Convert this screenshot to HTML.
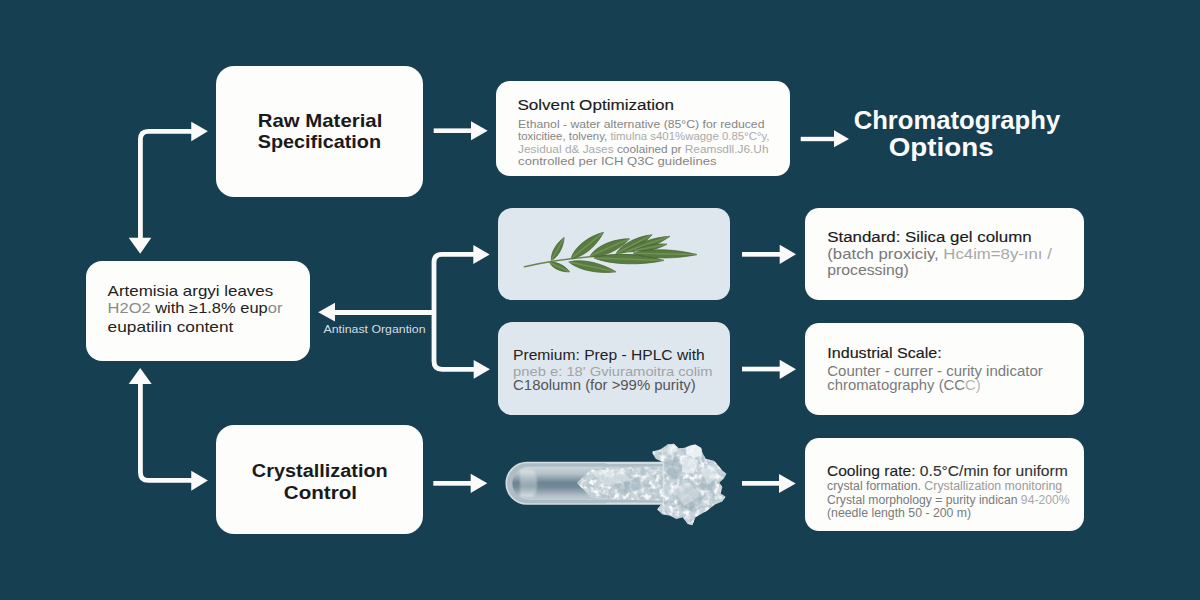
<!DOCTYPE html>
<html><head><meta charset="utf-8">
<style>
html,body{margin:0;padding:0;width:1200px;height:600px;overflow:hidden;background:#173f52;}
svg{display:block;}
text{font-family:"Liberation Sans",sans-serif;}
.b{font-weight:bold;}
</style></head>
<body>
<svg width="1200" height="600" viewBox="0 0 1200 600">
<defs>
<radialGradient id="bgg" cx="50%" cy="45%" r="75%">
<stop offset="0" stop-color="#1c3f55"/><stop offset="1" stop-color="#1a3a4f"/>
</radialGradient>
<linearGradient id="tubeg" x1="0" y1="0" x2="0" y2="1">
<stop offset="0" stop-color="#ccd6db"/><stop offset="0.2" stop-color="#b6c3ca"/><stop offset="0.48" stop-color="#6c8493"/><stop offset="0.62" stop-color="#748b99"/><stop offset="0.85" stop-color="#adbcc4"/><stop offset="1" stop-color="#c3ced4"/>
</linearGradient>
<linearGradient id="plugg" x1="0" y1="0" x2="0" y2="1">
<stop offset="0" stop-color="#dfe6ea"/><stop offset="0.35" stop-color="#b3c1c8"/><stop offset="0.6" stop-color="#9aabb5"/><stop offset="1" stop-color="#dfe6ea"/>
</linearGradient>
<filter id="tex" x="-10%" y="-10%" width="120%" height="120%">
<feTurbulence type="fractalNoise" baseFrequency="0.17" numOctaves="3" seed="7" result="n"/>
<feColorMatrix in="n" type="matrix" values="0 0 0 0 0.45  0 0 0 0 0.54  0 0 0 0 0.6  0 0 0 -4.5 2.5" result="dark"/>
<feComposite in="dark" in2="SourceGraphic" operator="in" result="d2"/>
<feTurbulence type="fractalNoise" baseFrequency="0.2" numOctaves="2" seed="11" result="n2"/>
<feColorMatrix in="n2" type="matrix" values="0 0 0 0 0.96  0 0 0 0 0.97  0 0 0 0 0.98  0 0 0 3.5 -1.65" result="light"/>
<feComposite in="light" in2="SourceGraphic" operator="in" result="l2"/>
<feMerge><feMergeNode in="SourceGraphic"/><feMergeNode in="d2"/><feMergeNode in="l2"/></feMerge>
</filter>
<filter id="soft" x="-20%" y="-20%" width="140%" height="140%"><feGaussianBlur stdDeviation="0.9"/></filter>
</defs>
<rect width="1200" height="600" fill="#173f52"/>

<!-- boxes -->
<g id="boxes">
<rect x="216" y="66" width="207" height="131" rx="18" fill="#fdfdfc"/>
<rect x="496" y="81" width="294" height="95" rx="14" fill="#fdfdfc"/>
<rect x="498" y="208" width="232" height="92" rx="14" fill="#dfe7ee"/>
<rect x="498" y="322" width="232" height="93" rx="14" fill="#dfe7ee"/>
<rect x="805" y="208" width="279" height="92" rx="14" fill="#fdfdfc"/>
<rect x="805" y="323" width="279" height="92" rx="14" fill="#fdfdfc"/>
<rect x="805" y="438" width="279" height="93" rx="14" fill="#fdfdfc"/>
<rect x="86" y="261" width="224" height="100" rx="16" fill="#fdfdfc"/>
<rect x="216" y="425" width="207" height="109" rx="18" fill="#fdfdfc"/>
</g>

<!-- leaf -->
<g id="leaf">
<path d="M524.5,266.8 Q556,259.5 590,256.8 T696,254.6" fill="none" stroke="#6a8550" stroke-width="1.5" stroke-linecap="round"/>
<path d="M551.4,260.4 C558.6,256.9 563.6,246.2 564.1,237.5 C557.0,242.5 550.5,252.4 551.4,260.4 Z" fill="#587c40" stroke="#41622f" stroke-width="0.7"/>
<path d="M551.4,260.4 Q557.8,248.9 564.1,237.5" fill="none" stroke="#8ba56c" stroke-width="1.5" opacity="0.5"/>
<path d="M549.8,262.7 C552.9,269.0 562.2,272.3 569.6,271.8 C565.2,265.8 556.6,261.0 549.8,262.7 Z" fill="#587c40" stroke="#41622f" stroke-width="0.7"/>
<path d="M549.8,262.7 Q559.7,267.2 569.6,271.8" fill="none" stroke="#8ba56c" stroke-width="1.5" opacity="0.5"/>
<path d="M571.0,258.5 C583.7,257.6 597.5,244.8 603.5,232.3 C590.0,235.5 574.6,246.3 571.0,258.5 Z" fill="#587c40" stroke="#41622f" stroke-width="0.7"/>
<path d="M571.0,258.5 Q587.2,245.4 603.5,232.3" fill="none" stroke="#8ba56c" stroke-width="1.5" opacity="0.5"/>
<path d="M568.8,262.0 C579.3,270.9 600.7,274.1 616.0,271.8 C602.9,263.6 581.9,258.0 568.8,262.0 Z" fill="#587c40" stroke="#41622f" stroke-width="0.7"/>
<path d="M568.8,262.0 Q592.4,266.9 616.0,271.8" fill="none" stroke="#8ba56c" stroke-width="1.5" opacity="0.5"/>
<path d="M590.0,256.0 C602.8,258.4 620.0,249.4 629.5,238.8 C615.3,238.5 597.0,245.0 590.0,256.0 Z" fill="#587c40" stroke="#41622f" stroke-width="0.7"/>
<path d="M590.0,256.0 Q609.8,247.4 629.5,238.8" fill="none" stroke="#8ba56c" stroke-width="1.5" opacity="0.5"/>
<path d="M594.0,258.0 C611.3,265.4 642.8,265.3 664.0,260.4 C643.2,254.1 611.7,251.8 594.0,258.0 Z" fill="#587c40" stroke="#41622f" stroke-width="0.7"/>
<path d="M594.0,258.0 Q629.0,259.2 664.0,260.4" fill="none" stroke="#8ba56c" stroke-width="1.5" opacity="0.5"/>
<path d="M616.0,253.5 C627.8,254.3 643.5,244.9 652.0,234.8 C638.9,235.9 622.2,243.4 616.0,253.5 Z" fill="#587c40" stroke="#41622f" stroke-width="0.7"/>
<path d="M616.0,253.5 Q634.0,244.2 652.0,234.8" fill="none" stroke="#8ba56c" stroke-width="1.5" opacity="0.5"/>
<path d="M625.0,252.0 C637.9,252.9 657.9,244.9 670.0,236.3 C655.1,237.1 634.6,243.3 625.0,252.0 Z" fill="#587c40" stroke="#41622f" stroke-width="0.7"/>
<path d="M625.0,252.0 Q647.5,244.2 670.0,236.3" fill="none" stroke="#8ba56c" stroke-width="1.5" opacity="0.5"/>
<path d="M635.0,250.5 C643.7,252.6 658.0,249.1 667.0,244.2 C656.8,243.1 642.3,245.3 635.0,250.5 Z" fill="#587c40" stroke="#41622f" stroke-width="0.7"/>
<path d="M635.0,250.5 Q651.0,247.3 667.0,244.2" fill="none" stroke="#8ba56c" stroke-width="1.5" opacity="0.5"/>
<path d="M633.0,253.2 C648.7,259.5 677.3,259.0 696.5,254.6 C677.6,249.3 649.0,247.6 633.0,253.2 Z" fill="#587c40" stroke="#41622f" stroke-width="0.7"/>
<path d="M633.0,253.2 Q664.8,253.9 696.5,254.6" fill="none" stroke="#8ba56c" stroke-width="1.5" opacity="0.5"/>
</g>
<!-- tube -->
<g id="tube">
<path d="M527,462.5 H664 V504 H527 A20.75,20.75 0 0 1 527,462.5 Z" fill="#aebcc4" stroke="#d3dde2" stroke-width="1.6"/>
<path d="M529,466.8 H664 V500 H529 A16.6,16.6 0 0 1 529,466.8 Z" fill="url(#tubeg)"/>
<path d="M520,470 H531 Q537,470 537,483.5 Q537,497 531,497 H520 Z" fill="url(#plugg)" opacity="0.85" filter="url(#soft)"/>
<path d="M577,483 L584,476 L590,470 L606,467.5 L664,466.5 L664,500.5 L606,499.5 L590,497 L584,490 Z" fill="#c6d3d9" filter="url(#tex)"/>
<path d="M652.7,451.6 L660.6,449.2 L667.7,444.5 L674,443.7 L678.8,448.5 L685.1,447.7 L690.7,445.3 L695.4,444.5 L701,447.7 L702.5,453.2 L705.7,458.7 L714.4,461.1 L719.2,466.7 L722.3,470.6 L726.3,473.8 L723.9,478.5 L719.2,482.5 L722.3,487.2 L720.7,493.6 L725.5,496.7 L722.3,501.5 L714.4,504.7 L706.5,511 L695.4,517.3 L692.2,525.2 L687.5,523.7 L682.7,517.3 L676.4,518.9 L670.1,515.7 L662.2,514.2 L657.4,509.4 L660.6,504.7 L663.7,501.5 L663.7,462.7 L655.8,458.7 L652.7,454 Z" fill="#c8d4da" filter="url(#tex)"/>
<path d="M664,462 L676,456 L684,468 L676,480 L665,476 Z" fill="#98acb7" opacity="0.55" filter="url(#soft)"/>
<path d="M676,490 L694,486 L704,500 L692,512 L678,506 Z" fill="#93a8b3" opacity="0.55" filter="url(#soft)"/>
<path d="M702,474 L716,478 L712,492 L700,488 Z" fill="#9cb0ba" opacity="0.5" filter="url(#soft)"/>
<path d="M600,478 L630,474 L650,486 L622,494 Z" fill="#9cb0ba" opacity="0.5" filter="url(#soft)"/>
<path d="M683,458 L698,460 L694,474 L682,472 Z" fill="#f2f6f8" opacity="0.6"/>
<path d="M687,447 L695,444.5 L701,448 L702,455 L694,458 L686,454 Z" fill="#f2f6f7" opacity="0.8"/>
<path d="M668,445 L674,444 L678,450 L672,455 L666,451 Z" fill="#eef3f5" opacity="0.6"/>
<path d="M700,470 L714,466 L720,476 L708,484 Z" fill="#eef3f5" opacity="0.5"/>
<path d="M672,488 L690,482 L700,496 L684,506 Z" fill="#e8eef1" opacity="0.45"/>
<path d="M590,471 L620,469 L632,480 L606,486 Z" fill="#eef3f5" opacity="0.45"/>
<path d="M663.5,463 V503" stroke="#e6edf0" stroke-width="1.4" opacity="0.6"/>
<path d="M606,463.3 H663.5 M606,503.3 H663.5" stroke="#dde6ea" stroke-width="1.6" opacity="0.7"/>
</g>

<!-- arrows -->
<g fill="#fafafa" stroke="none">
<rect x="433.7" y="128.4" width="38" height="4.6"/><polygon points="471,121.3 487.7,130.8 471,140.3"/>
<rect x="800.7" y="136.8" width="34" height="4.4"/><polygon points="834,130.3 849,139 834,147.3"/>
<rect x="742" y="252" width="38" height="4.7"/><polygon points="779.7,244.7 796,254.3 779.7,264"/>
<rect x="742" y="366.7" width="38" height="4.7"/><polygon points="779.7,359.7 796,369.3 779.7,379"/>
<rect x="742" y="481" width="38" height="4.7"/><polygon points="779,474 795.7,483.4 779,493"/>
<rect x="433.3" y="481" width="38" height="4.7"/><polygon points="470.7,473.7 487.3,483.3 470.7,493"/>
<!-- left-pointing -->
<rect x="334" y="310" width="102" height="5"/><polygon points="335,302.8 318.2,312.3 335,321.5"/>
<polygon points="473.3,245 489.7,254.4 473.3,264"/>
<polygon points="473.7,360 490,369.3 473.7,378.7"/>
<polygon points="191.25,121.7 207.9,131.3 191.25,141.3"/>
<polygon points="128.7,237.7 151.3,237.7 140.2,253.7"/>
<polygon points="140.2,368 151.7,384 128.7,384"/>
<polygon points="191.25,470.8 207.9,480.4 191.25,490.8"/>
</g>
<g fill="none" stroke="#fafafa" stroke-width="4.8">
<path d="M475,254.4 H442 Q434,254.4 434,262.4 V361.3 Q434,369.3 442,369.3 H475"/>
<path d="M193,131.3 H148.4 Q140.4,131.3 140.4,139.3 V239"/>
<path d="M140.4,383 V472.4 Q140.4,480.4 148.4,480.4 H193"/>
</g>

<!-- titles -->
<!-- TEXT -->
<text x="853.7" y="129.1" font-size="25.2" textLength="206.5" lengthAdjust="spacingAndGlyphs" font-weight="bold"><tspan fill="#fbfbfb">Chromatography</tspan></text>
<text x="888.7" y="156.2" font-size="25.2" textLength="105.0" lengthAdjust="spacingAndGlyphs" font-weight="bold"><tspan fill="#fbfbfb">Options</tspan></text>
<text x="257.8" y="127.4" font-size="19.0" textLength="124.5" lengthAdjust="spacingAndGlyphs" font-weight="bold"><tspan fill="#1a1a1a">Raw Material</tspan></text>
<text x="257.8" y="147.8" font-size="19.0" textLength="123.2" lengthAdjust="spacingAndGlyphs" font-weight="bold"><tspan fill="#1a1a1a">Specification</tspan></text>
<text x="251.8" y="477.2" font-size="18.9" textLength="135.9" lengthAdjust="spacingAndGlyphs" font-weight="bold"><tspan fill="#1a1a1a">Crystallization</tspan></text>
<text x="283.8" y="498.5" font-size="18.9" textLength="73.2" lengthAdjust="spacingAndGlyphs" font-weight="bold"><tspan fill="#1a1a1a">Control</tspan></text>
<text x="517.4" y="109.5" font-size="15.1" textLength="156.7" lengthAdjust="spacingAndGlyphs"><tspan fill="#1a1a1a" stroke="#1a1a1a" stroke-width="0.15">Solvent Optimization</tspan></text>
<text x="518.1" y="127.5" font-size="11.4" textLength="246.4" lengthAdjust="spacingAndGlyphs"><tspan fill="#858585">Ethanol - water alternative (85°C) for reduced</tspan></text>
<text x="518.1" y="140.2" font-size="11.4" textLength="251.4" lengthAdjust="spacingAndGlyphs"><tspan fill="#858585">toxicitiee, tolveny, </tspan><tspan fill="#aaaaaa">timulna s401%wagge 0.85°C°y,</tspan></text>
<text x="518.1" y="153.0" font-size="11.4" textLength="250.4" lengthAdjust="spacingAndGlyphs"><tspan fill="#aaaaaa">Jesidual d&amp; Jases </tspan><tspan fill="#858585">coolained pr </tspan><tspan fill="#aaaaaa">Reamsdll.J6.Uh</tspan></text>
<text x="518.1" y="165.0" font-size="11.4" textLength="198.4" lengthAdjust="spacingAndGlyphs"><tspan fill="#858585">controlled per ICH Q3C guidelines</tspan></text>
<text x="107.6" y="295.8" font-size="14.5" textLength="165.6" lengthAdjust="spacingAndGlyphs"><tspan fill="#222">Artemisia argyi leaves</tspan></text>
<text x="107.6" y="313.3" font-size="14.5" textLength="174.8" lengthAdjust="spacingAndGlyphs"><tspan fill="#8a8a8a">H2O2 </tspan><tspan fill="#222">with ≥1.8% eup</tspan><tspan fill="#8a8a8a">or</tspan></text>
<text x="107.6" y="331.7" font-size="14.5" textLength="125.7" lengthAdjust="spacingAndGlyphs"><tspan fill="#222">eupatilin content</tspan></text>
<text x="323.5" y="333.4" font-size="10.5" textLength="102.0" lengthAdjust="spacingAndGlyphs"><tspan fill="#d3dce1">Antinast Organtion</tspan></text>
<text x="513.1" y="359.8" font-size="14.2" textLength="191.6" lengthAdjust="spacingAndGlyphs"><tspan fill="#222">Premium: Prep - HPLC with</tspan></text>
<text x="513.1" y="375.7" font-size="13.4" textLength="199.5" lengthAdjust="spacingAndGlyphs"><tspan fill="#a0a4a8">pneb e: 18&#x27; Gviuramoitra colim</tspan></text>
<text x="513.1" y="390.0" font-size="13.8" textLength="182.6" lengthAdjust="spacingAndGlyphs"><tspan fill="#555">C18olumn (for &gt;99% purity)</tspan></text>
<text x="827.2" y="241.6" font-size="15.2" textLength="204.5" lengthAdjust="spacingAndGlyphs"><tspan fill="#1a1a1a" stroke="#1a1a1a" stroke-width="0.15">Standard: Silica gel column</tspan></text>
<text x="827.3" y="258.6" font-size="14.6" textLength="224.5" lengthAdjust="spacingAndGlyphs"><tspan fill="#777">(batch proxiciy, </tspan><tspan fill="#a8a8a8">Hc4im=8y-ını /</tspan></text>
<text x="827.3" y="275.2" font-size="14.6" textLength="81.5" lengthAdjust="spacingAndGlyphs"><tspan fill="#777">processing)</tspan></text>
<text x="827.3" y="358.0" font-size="14.5" textLength="114.5" lengthAdjust="spacingAndGlyphs"><tspan fill="#1a1a1a" stroke="#1a1a1a" stroke-width="0.15">Industrial Scale:</tspan></text>
<text x="827.3" y="375.6" font-size="14.0" textLength="215.4" lengthAdjust="spacingAndGlyphs"><tspan fill="#7a7a7a">Counter - currer - curity indicator</tspan></text>
<text x="827.3" y="390.2" font-size="14.0" textLength="153.4" lengthAdjust="spacingAndGlyphs"><tspan fill="#7a7a7a">chromatography (CC</tspan><tspan fill="#b5b5b5">C)</tspan></text>
<text x="826.9" y="475.6" font-size="14.2" textLength="240.8" lengthAdjust="spacingAndGlyphs"><tspan fill="#1e1e1e" stroke="#1e1e1e" stroke-width="0.12">Cooling rate: </tspan><tspan fill="#333" stroke="#333" stroke-width="0.12">0.5°C/min for uniform</tspan></text>
<text x="827.0" y="490.1" font-size="12.3" textLength="235.2" lengthAdjust="spacingAndGlyphs"><tspan fill="#7a7a7a">crystal formation. </tspan><tspan fill="#9a9a9a">Crystallization monitoring</tspan></text>
<text x="827.0" y="503.8" font-size="12.3" textLength="242.6" lengthAdjust="spacingAndGlyphs"><tspan fill="#7a7a7a">Crystal morphology = purity indican </tspan><tspan fill="#a8a8a8">94-200%</tspan></text>
<text x="827.0" y="516.8" font-size="12.3" textLength="144.2" lengthAdjust="spacingAndGlyphs"><tspan fill="#7a7a7a">(needle length 50 - 200 m)</tspan></text>
<!-- /TEXT -->
</svg>
</body></html>
